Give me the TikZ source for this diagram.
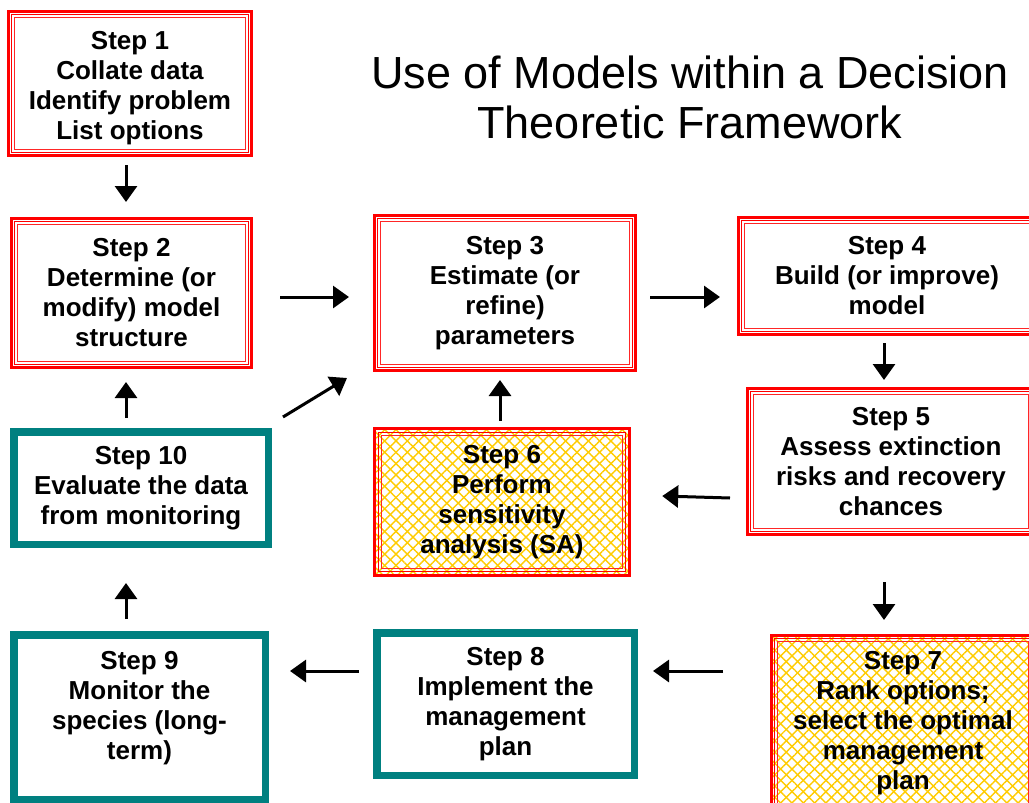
\documentclass[tikz,border=0pt]{standalone}
\usepackage{fontspec}
\setmainfont{Liberation Sans}
\usetikzlibrary{arrows.meta,patterns.meta}
\definecolor{boxred}{RGB}{255,0,0}
\definecolor{tealc}{RGB}{0,128,128}
\definecolor{hatchc}{RGB}{255,204,0}
\tikzset{
  redbox/.style={draw=boxred, line width=3pt, fill=white, inner sep=0pt, align=center,
    font=\bfseries\fontsize{26}{30}\selectfont},
  hatchbox/.style={redbox,
    preaction={fill=white},
    preaction={pattern={Lines[angle=45,distance=8pt,line width=1.4pt]}, pattern color=hatchc},
    pattern={Lines[angle=-45,distance=8pt,line width=1.4pt]}, pattern color=hatchc},
  tealbox/.style={draw=tealc, line width=7.5pt, fill=white, inner sep=0pt, align=center,
    font=\bfseries\fontsize{26}{30}\selectfont},
  arr/.style={line width=3pt, -{Triangle[length=16pt,width=22pt]}},
  titletext/.style={align=center, font=\fontsize{45}{50}\selectfont, inner sep=0pt}
}
\begin{document}
\begin{tikzpicture}[x=1pt,y=-1pt]
\useasboundingbox (0,0) rectangle (1029,803);
\fill[white] (0,0) rectangle (1029,803);

\node[titletext] (title) at (690,97) {Use of Models within a Decision\\Theoretic Framework};

\node[redbox, minimum width=243, minimum height=144] (s1) at (130,83.5)
  {\mbox{}\\[-3pt]Step 1\\Collate data\\Identify problem\\List options};
\node[redbox, minimum width=240, minimum height=149] (s2) at (131.5,293)
  {Step 2\\Determine (or\\modify) model\\structure};
\node[redbox, minimum width=261, minimum height=155] (s3) at (505,293)
  {Step 3\\Estimate (or\\refine)\\parameters};
\node[redbox, minimum width=297, minimum height=117] (s4) at (887,276)
  {Step 4\\Build (or improve)\\model};
\node[redbox, minimum width=287, minimum height=146] (s5) at (891,461.5)
  {Step 5\\Assess extinction\\risks and recovery\\chances};
\node[hatchbox, minimum width=255, minimum height=147] (s6) at (502,502)
  {Step 6\\Perform\\sensitivity\\analysis (SA)};
\node[hatchbox, minimum width=263, minimum height=175] (s7) at (903,723)
  {Step 7\\Rank options;\\select the optimal\\management\\plan};
\node[tealbox, minimum width=257.5, minimum height=142.5] (s8) at (505.5,704)
  {Step 8\\Implement the\\management\\plan};
\node[tealbox, minimum width=251.5, minimum height=164.5] (s9) at (139.5,717)
  {Step 9\\Monitor the\\species (long-\\term)\\[-6pt]\mbox{}};
\node[tealbox, minimum width=254.5, minimum height=112.5] (s10) at (141,488)
  {Step 10\\Evaluate the data\\from monitoring};

\foreach \n in {s1,s2,s3,s4,s5,s6,s7}{
  \draw[boxred, line width=1.2pt] ([shift={(4.8,4.8)}]\n.north west) rectangle ([shift={(-4.8,-4.8)}]\n.south east);
  \draw[boxred!85, line width=1pt] ([shift={(7.4,7.4)}]\n.north west) rectangle ([shift={(-7.4,-7.4)}]\n.south east);
}

\draw[arr] ([shift={(-4,8)}]s1.south) -- ([shift={(-5.5,-15)}]s2.north);
\draw[arr] ([shift={(27,4)}]s2.east) -- ([shift={(-24,4)}]s3.west);
\draw[arr] ([shift={(13,4)}]s3.east) -- ([shift={(-17,21)}]s4.west);
\draw[arr] ([shift={(-3,7)}]s4.south) -- ([shift={(-7,-7)}]s5.north);
\draw[arr] ([shift={(-16,36.5)}]s5.west) -- ([shift={(32,-6)}]s6.east);
\draw[arr] ([shift={(-2,-7)}]s6.north) -- ([shift={(-5,8)}]s3.south);
\draw[arr] ([shift={(-15,-10)}]s10.north) -- ([shift={(-5.5,13)}]s2.south);
\draw[arr] ([shift={(11,-11)}]s10.north east) -- ([shift={(-26,6)}]s3.south west);
\draw[arr] ([shift={(-7,46)}]s5.south) -- ([shift={(-19,-14)}]s7.north);
\draw[arr] ([shift={(-47,-52)}]s7.west) -- ([shift={(15,-33)}]s8.east);
\draw[arr] ([shift={(-14,-33)}]s8.west) -- ([shift={(21,-46)}]s9.east);
\draw[arr] ([shift={(-13.5,-12)}]s9.north) -- ([shift={(-15,35)}]s10.south);
\end{tikzpicture}
\end{document}
